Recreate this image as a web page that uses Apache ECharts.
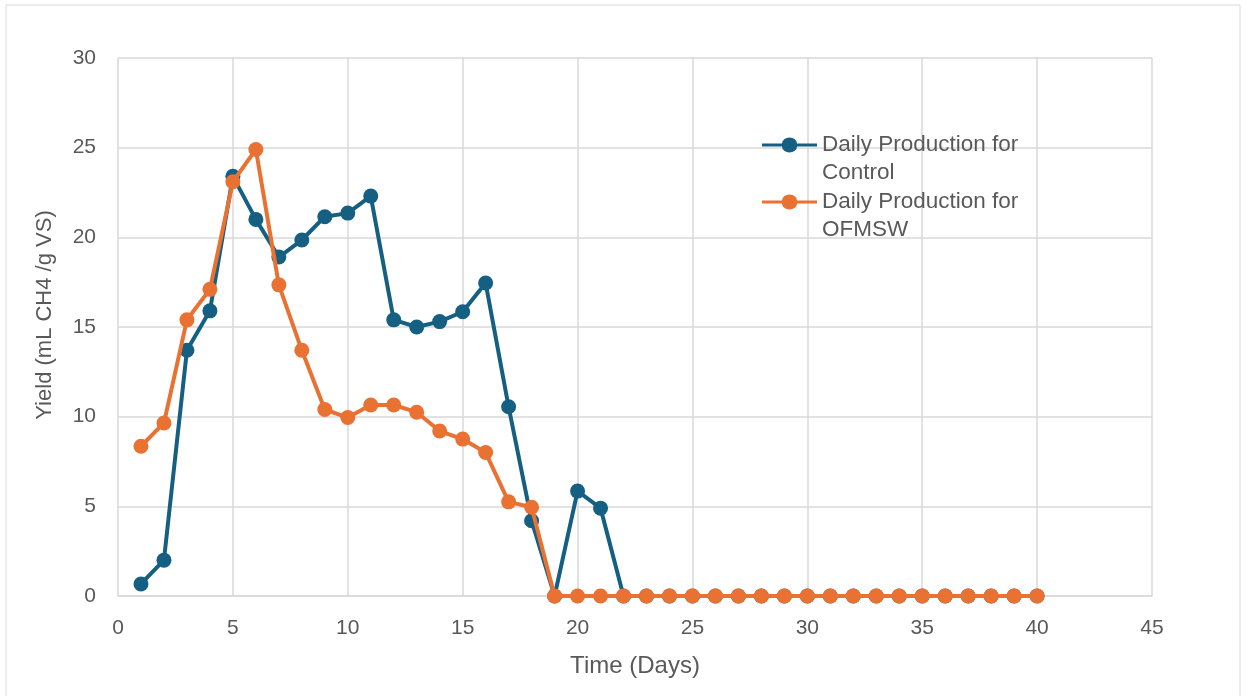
<!DOCTYPE html>
<html><head><meta charset="utf-8">
<script src="https://cdn.jsdelivr.net/npm/echarts@6/dist/echarts.min.js"></script>
<style>html,body{margin:0;padding:0;background:#fff}#c{width:1247px;height:696px}</style>
</head><body><div id="c"></div>
<script>
var days = [1,2,3,4,5,6,7,8,9,10,11,12,13,14,15,16,17,18,19,20,21,22,23,24,25,26,27,28,29,30,31,32,33,34,35,36,37,38,39,40];
var control = [0.67,2.0,13.7,15.9,23.4,21.0,18.9,19.85,21.15,21.35,22.3,15.4,15.0,15.3,15.85,17.45,10.55,4.2,0,5.85,4.9,0,0,0,0,0,0,0,0,0,0,0,0,0,0,0,0,0,0,0];
var ofmsw = [8.35,9.65,15.4,17.1,23.1,24.9,17.35,13.7,10.4,9.95,10.65,10.65,10.25,9.2,8.75,8.0,5.25,4.95,0,0,0,0,0,0,0,0,0,0,0,0,0,0,0,0,0,0,0,0,0,0];
var xTicks = [0,5,10,15,20,25,30,35,40,45];
var yTicks = [0,5,10,15,20,25,30];
var seriesNames = ['Daily Production for Control','Daily Production for OFMSW'];
var legendLines = {
  'Daily Production for Control':'\nDaily Production for\nControl',
  'Daily Production for OFMSW':'\nDaily Production for\nOFMSW'
};
function pairs(v){return days.map(function(d,i){return [d,v[i]];});}
var font = '"Liberation Sans", Arial, sans-serif';
var chart = echarts.init(document.getElementById('c'));
chart.setOption({
  animation:false,
  graphic:[{type:'rect',shape:{x:6,y:5,width:1234,height:700},style:{fill:'none',stroke:'#d9d9d9',lineWidth:1},silent:true,z:-10}],
  grid:{left:118,right:95,top:58,bottom:100},
  legend:{
    orient:'vertical',left:757,top:98,itemWidth:55,itemHeight:15,itemGap:-27,
    symbolKeepAspect:false,
    data:seriesNames,
    formatter:function(n){return legendLines[n];},
    textStyle:{fontFamily:font,fontSize:22.5,color:'#595959',lineHeight:28},
    icon:'path://M0,5.75L20,5.75A7.5,7.5,0,0,1,35,5.75L55,5.75L55,9.25L35,9.25A7.5,7.5,0,0,1,20,9.25L0,9.25Z'
  },
  xAxis:{type:'value',min:0,max:45,interval:5,
    name:'Time (Days)',nameLocation:'middle',nameGap:58,
    nameTextStyle:{fontFamily:font,fontSize:24,color:'#595959'},
    axisLine:{show:true,lineStyle:{color:'#d9d9d9',width:1.5}},
    axisTick:{show:false},
    axisLabel:{fontFamily:font,fontSize:21,color:'#595959',margin:22},
    splitLine:{show:true,lineStyle:{color:'#d9d9d9',width:1.5}}},
  yAxis:{type:'value',min:0,max:30,interval:5,
    name:'Yield (mL CH4 /g VS)',nameLocation:'middle',nameGap:62,
    nameTextStyle:{fontFamily:font,fontSize:22,color:'#595959',padding:[0,0,0,24]},
    axisLine:{show:false},axisTick:{show:false},
    axisLabel:{fontFamily:font,fontSize:21,color:'#595959',margin:22},
    splitLine:{show:true,lineStyle:{color:'#d9d9d9',width:1.5}}},
  series:[
    {name:seriesNames[0],type:'line',data:pairs(control),symbol:'circle',symbolSize:15,
     lineStyle:{color:'#156082',width:4},itemStyle:{color:'#156082'},z:2},
    {name:seriesNames[1],type:'line',data:pairs(ofmsw),symbol:'circle',symbolSize:15,
     lineStyle:{color:'#E97132',width:4},itemStyle:{color:'#E97132'},z:3}
  ]
});
</script></body></html>
